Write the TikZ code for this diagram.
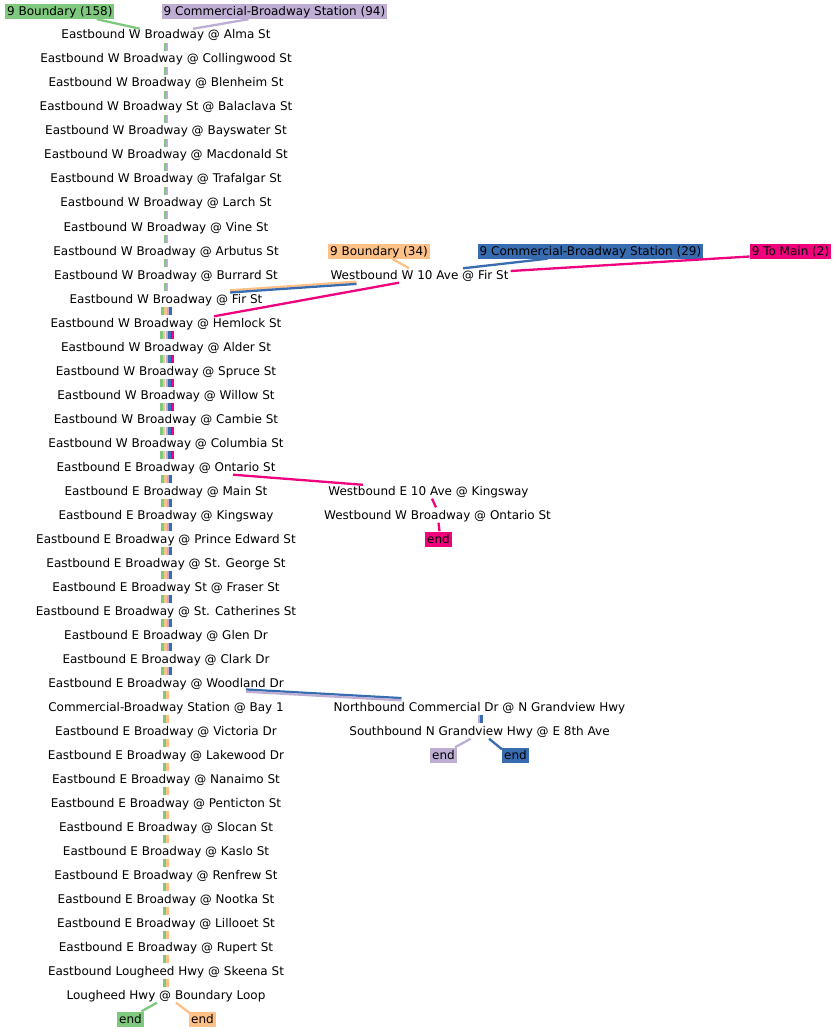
\documentclass[tikz,border=0pt]{standalone}
\usepackage{fontspec}
\setmainfont{DejaVu Sans}
\usepackage{tikz}
\usetikzlibrary{calc}
\definecolor{rgreen}{HTML}{7FC97F}
\definecolor{rpurple}{HTML}{BEAED4}
\definecolor{rorange}{HTML}{FDC086}
\definecolor{rblue}{HTML}{386CB0}
\definecolor{rmagenta}{HTML}{F0027F}
\tikzset{
  stop/.style={font=\fontsize{12}{14}\selectfont, inner xsep=2pt, inner ysep=1pt,
               text height=10.5pt, text depth=2.5pt},
  tag/.style={stop, fill=#1},
  lane/.style={draw=#1, line width=2.6pt},
  pair/.style={draw=#1, line width=2pt},
  hop/.style={draw=#1, line width=2.3pt},
}

\begin{document}
\begin{tikzpicture}[x=1pt, y=-1pt]
  \fill[white] (0,0) rectangle (835,1032);
  \useasboundingbox (0,0) rectangle (835,1032);
  % route heads
  \node[tag=rgreen] (b158) at (59.8,11.5) {9 Boundary (158)};
  \node[tag=rpurple] (c94) at (274.5,11.5) {9 Commercial-Broadway Station (94)};
  \node[tag=rorange] (b34) at (379,251) {9 Boundary (34)};
  \node[tag=rblue] (c29) at (590.5,251) {9 Commercial-Broadway Station (29)};
  \node[tag=rmagenta] (tomain) at (790.5,251) {9 To Main (2)};
  % main column of stops
  \foreach \txt [count=\i] in {
      Eastbound W Broadway @ Alma St,
      Eastbound W Broadway @ Collingwood St,
      Eastbound W Broadway @ Blenheim St,
      Eastbound W Broadway St @ Balaclava St,
      Eastbound W Broadway @ Bayswater St,
      Eastbound W Broadway @ Macdonald St,
      Eastbound W Broadway @ Trafalgar St,
      Eastbound W Broadway @ Larch St,
      Eastbound W Broadway @ Vine St,
      Eastbound W Broadway @ Arbutus St,
      Eastbound W Broadway @ Burrard St,
      Eastbound W Broadway @ Fir St,
      Eastbound W Broadway @ Hemlock St,
      Eastbound W Broadway @ Alder St,
      Eastbound W Broadway @ Spruce St,
      Eastbound W Broadway @ Willow St,
      Eastbound W Broadway @ Cambie St,
      Eastbound W Broadway @ Columbia St,
      Eastbound E Broadway @ Ontario St,
      Eastbound E Broadway @ Main St,
      Eastbound E Broadway @ Kingsway,
      Eastbound E Broadway @ Prince Edward St,
      Eastbound E Broadway @ St. George St,
      Eastbound E Broadway St @ Fraser St,
      Eastbound E Broadway @ St. Catherines St,
      Eastbound E Broadway @ Glen Dr,
      Eastbound E Broadway @ Clark Dr,
      Eastbound E Broadway @ Woodland Dr,
      Commercial-Broadway Station @ Bay 1,
      Eastbound E Broadway @ Victoria Dr,
      Eastbound E Broadway @ Lakewood Dr,
      Eastbound E Broadway @ Nanaimo St,
      Eastbound E Broadway @ Penticton St,
      Eastbound E Broadway @ Slocan St,
      Eastbound E Broadway @ Kaslo St,
      Eastbound E Broadway @ Renfrew St,
      Eastbound E Broadway @ Nootka St,
      Eastbound E Broadway @ Lillooet St,
      Eastbound E Broadway @ Rupert St,
      Eastbound Lougheed Hwy @ Skeena St,
      Lougheed Hwy @ Boundary Loop}
    \node[stop] (s\i) at (166,{11+24*\i}) {\txt};
  % side stops
  \node[stop] (w10) at (419.5,275) {Westbound W 10 Ave @ Fir St};
  \node[stop] (e10k) at (428.5,491) {Westbound E 10 Ave @ Kingsway};
  \node[stop] (wbo) at (437.5,515) {Westbound W Broadway @ Ontario St};
  \node[stop] (nb) at (479.5,707) {Northbound Commercial Dr @ N Grandview Hwy};
  \node[stop] (sb) at (479.5,731) {Southbound N Grandview Hwy @ E 8th Ave};
  % ends
  \node[tag=rmagenta] (endM) at (438.5,539) {end};
  \node[tag=rpurple] (endP) at (443.5,755) {end};
  \node[tag=rblue] (endB) at (515.5,755) {end};
  \node[tag=rgreen] (endG) at (130.5,1019) {end};
  \node[tag=rorange] (endO) at (202.5,1019) {end};

  % trunk segments
  \foreach \i [evaluate=\i as \j using int(\i+1)] in {1,...,11}
    \foreach \c/\dx in {rgreen/-1, rpurple/1}
      \draw[pair=\c] ([xshift=\dx pt]s\i.south) -- ([xshift=\dx pt]s\j.north);
  \foreach \c/\dx in {rgreen/-3.4, rorange/-0.7, rpurple/2.0, rblue/4.7}
    \draw[lane=\c] ([xshift=\dx pt]s12.south) -- ([xshift=\dx pt]s13.north);
  \foreach \i [evaluate=\i as \j using int(\i+1)] in {13,...,18}
    \foreach \c/\dx in {rgreen/-4.6, rorange/-1.9, rpurple/0.8, rblue/3.5, rmagenta/6.2}
      \draw[lane=\c] ([xshift=\dx pt]s\i.south) -- ([xshift=\dx pt]s\j.north);
  \foreach \i [evaluate=\i as \j using int(\i+1)] in {19,...,27}
    \foreach \c/\dx in {rgreen/-3.4, rorange/-0.7, rpurple/2.0, rblue/4.7}
      \draw[lane=\c] ([xshift=\dx pt]s\i.south) -- ([xshift=\dx pt]s\j.north);
  \foreach \i [evaluate=\i as \j using int(\i+1)] in {28,...,40}
    \foreach \c/\dx in {rgreen/-1.3, rorange/1.3}
      \draw[lane=\c] ([xshift=\dx pt]s\i.south) -- ([xshift=\dx pt]s\j.north);

  % heads into the trunk
  \draw[hop=rgreen] ([xshift=37pt]b158.south) -- ([xshift=-26pt,yshift=-1.5pt]s1.north);
  \draw[hop=rpurple] ([xshift=-26pt]c94.south) -- ([xshift=27pt,yshift=-1.5pt]s1.north);
  \draw[hop=rorange] ([xshift=13pt]b34.south) -- ([xshift=-10.5pt,yshift=-1pt]w10.north);
  \draw[hop=rblue] ([xshift=-43pt]c29.south) -- ([xshift=43.5pt,yshift=-1pt]w10.north);
  \draw[hop=rmagenta] ([yshift=-5.5pt]tomain.west) -- ([yshift=4pt]w10.east);
  % 10 Ave detour
  \draw[hop=rorange] ([xshift=-63pt,yshift=1pt]w10.south) -- ([xshift=64pt,yshift=1pt]s12.north);
  \draw[hop=rblue] ([xshift=-63pt,yshift=-1.2pt]w10.south) -- ([xshift=64pt,yshift=-1.2pt]s12.north);
  \draw[hop=rmagenta] ([xshift=-20.5pt]w10.south) -- ([xshift=48pt,yshift=-1pt]s13.north);
  % To Main branch
  \draw[hop=rmagenta] ([xshift=67pt]s19.south) -- ([xshift=-65.5pt,yshift=-1.5pt]e10k.north);
  \draw[hop=rmagenta] ([xshift=3.5pt]e10k.south) -- ([xshift=-1.5pt]wbo.north);
  \draw[hop=rmagenta] ([xshift=1pt]wbo.south) -- ([xshift=1pt]endM.north);
  % Commercial-Broadway branch
  \draw[hop=rblue] ([xshift=80pt,yshift=1.2pt]s28.south) -- ([xshift=-78pt,yshift=1.2pt]nb.north);
  \draw[hop=rpurple] ([xshift=80pt,yshift=-1pt]s28.south) -- ([xshift=-78pt,yshift=-1pt]nb.north);
  \draw[lane=rpurple] ([xshift=-0.7pt]nb.south) -- ([xshift=-0.7pt]sb.north);
  \draw[lane=rblue] ([xshift=1.9pt]nb.south) -- ([xshift=1.9pt]sb.north);
  \draw[hop=rpurple] ([xshift=-8.8pt]sb.south) -- ([xshift=11.5pt]endP.north);
  \draw[hop=rblue] ([xshift=9.5pt]sb.south) -- ([yshift=-2pt]endB.north west);
  % loop ends
  \draw[hop=rgreen] ([xshift=-9pt]s41.south) -- ([xshift=11pt]endG.north);
  \draw[hop=rorange] ([xshift=10pt]s41.south) -- ([xshift=0.5pt,yshift=-1.5pt]endO.north west);
\end{tikzpicture}
\end{document}
